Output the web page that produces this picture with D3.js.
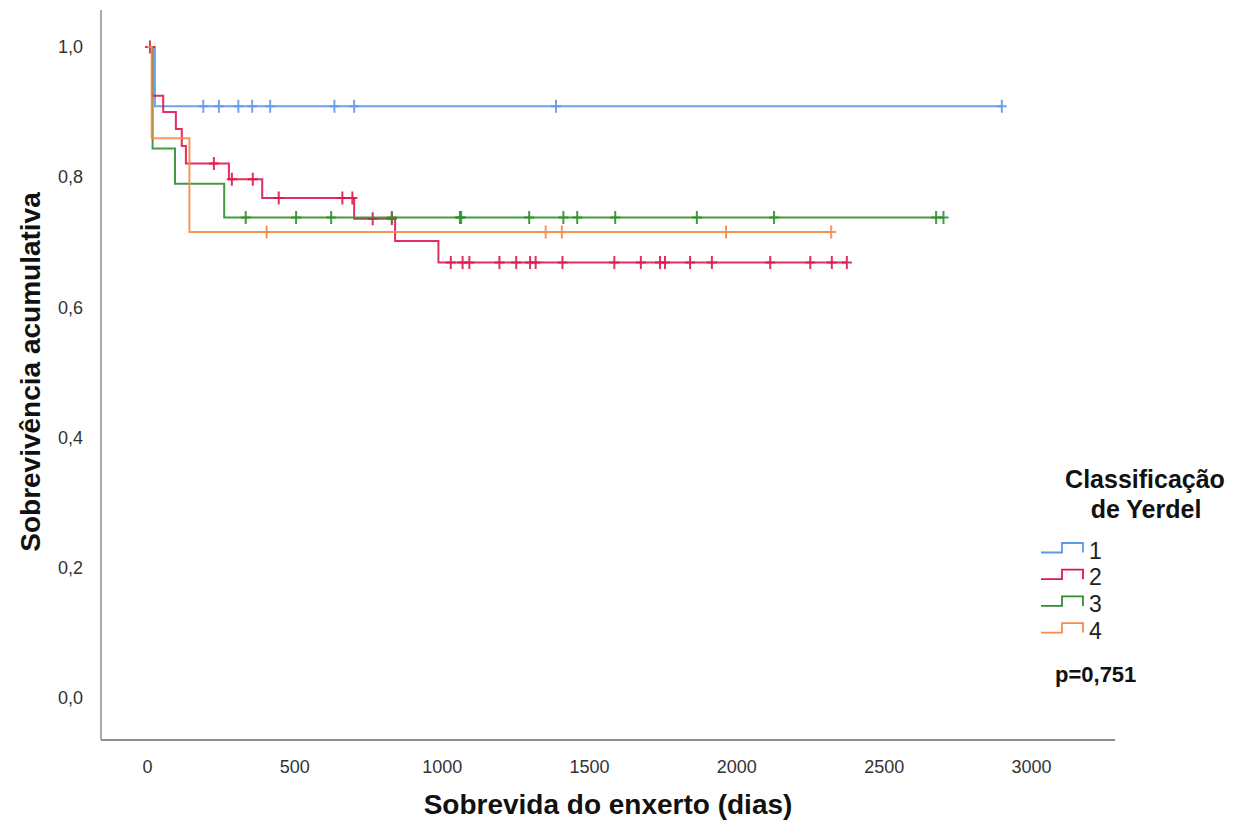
<!DOCTYPE html>
<html>
<head>
<meta charset="utf-8">
<script src="https://cdn.jsdelivr.net/npm/d3@7"></script>
<style>
  body { margin: 0; background: #fff; }
  svg { display: block; font-family: "Liberation Sans", Arial, sans-serif; }
</style>
</head>
<body>
<div id="chart"></div>
<script>
// Kaplan-Meier steps: time (days) and survival after each drop
const groups = ["1", "2", "3", "4"];

const g1Times = [0, 27];
const g1Surv = [1.0, 0.909];
const g1Censored = [191, 244, 310, 357, 418, 636, 703, 1388, 2901];

const g2Times = [0, 18, 55, 98, 118, 132, 278, 391, 703, 842, 989];
const g2Surv = [1.0, 0.925, 0.900, 0.874, 0.848, 0.821, 0.797, 0.768, 0.736, 0.702, 0.669];
const g2Censored = [10, 227, 288, 359, 447, 663, 697, 766, 831, 1031, 1071, 1094, 1196, 1253,
  1300, 1319, 1410, 1586, 1676, 1741, 1758, 1843, 1917, 2115, 2251, 2324, 2375];

const g3Times = [0, 19, 95, 262];
const g3Surv = [1.0, 0.844, 0.790, 0.738];
const g3Censored = [335, 506, 625, 831, 1062, 1066, 1297, 1413, 1460, 1589, 1866, 2128, 2678, 2703];

const g4Times = [0, 16, 144];
const g4Surv = [1.0, 0.860, 0.716];
const g4Censored = [406, 1353, 1408, 1965, 2322];

const xTicks = [0, 500, 1000, 1500, 2000, 2500, 3000];
const yTicks = [0, 0.2, 0.4, 0.6, 0.8, 1.0];
const pValue = "p=0,751";

const colors = ["#5f9ae8", "#e0174f", "#2f8f2f", "#f7894a"];

const series = [
  { name: groups[0], times: g1Times, surv: g1Surv, cens: g1Censored },
  { name: groups[1], times: g2Times, surv: g2Surv, cens: g2Censored },
  { name: groups[2], times: g3Times, surv: g3Surv, cens: g3Censored },
  { name: groups[3], times: g4Times, surv: g4Surv, cens: g4Censored }
];

const width = 1252, height = 820;

const x = d3.scaleLinear().domain([0, 3000]).range([147, 1031]);
const y = d3.scaleLinear().domain([0, 1]).range([698, 47]);

const svg = d3.select("#chart").append("svg")
  .attr("width", width)
  .attr("height", height);

// frame (left and bottom)
const frame = { x0: 101, x1: 1115, y0: 10, y1: 740 };
svg.append("line")
  .attr("x1", frame.x0).attr("x2", frame.x0)
  .attr("y1", frame.y0).attr("y2", frame.y1)
  .attr("stroke", "#8e8e8e").attr("stroke-width", 1.5);
svg.append("line")
  .attr("x1", frame.x0).attr("x2", frame.x1)
  .attr("y1", frame.y1).attr("y2", frame.y1)
  .attr("stroke", "#8e8e8e").attr("stroke-width", 2);

// axes, labels only
const xAxis = svg.append("g")
  .attr("transform", `translate(0,${frame.y1})`)
  .call(d3.axisBottom(x).tickValues(xTicks).tickSize(0).tickPadding(20).tickFormat(d3.format("d")));
xAxis.select(".domain").remove();
xAxis.selectAll("text")
  .attr("font-size", 18)
  .attr("font-family", "Liberation Sans, Arial, sans-serif")
  .attr("fill", "#333");

const yAxis = svg.append("g")
  .attr("transform", `translate(83,0)`)
  .call(d3.axisLeft(y).tickValues(yTicks).tickSize(0).tickPadding(0)
    .tickFormat(d => d3.format(".1f")(d).replace(".", ",")));
yAxis.select(".domain").remove();
yAxis.selectAll("text")
  .attr("font-size", 18)
  .attr("font-family", "Liberation Sans, Arial, sans-serif")
  .attr("fill", "#333");

// axis titles
svg.append("text")
  .attr("x", 608).attr("y", 814)
  .attr("text-anchor", "middle")
  .attr("font-size", 28).attr("font-weight", "bold").attr("fill", "#111")
  .text("Sobrevida do enxerto (dias)");

svg.append("text")
  .attr("transform", "translate(40,372) rotate(-90)")
  .attr("text-anchor", "middle")
  .attr("font-size", 28).attr("font-weight", "bold").attr("fill", "#111")
  .text("Sobrevivência acumulativa");

// survival value at a given time
function survAt(s, t) {
  let v = s.surv[0];
  s.times.forEach((tt, i) => { if (tt <= t) v = s.surv[i]; });
  return v;
}

const line = d3.line()
  .x(d => x(d[0]))
  .y(d => y(d[1]))
  .curve(d3.curveStepAfter);

const curves = svg.append("g");
series.forEach((s, i) => {
  const pts = s.times.map((t, k) => [t, s.surv[k]]);
  const end = d3.max(s.cens);
  pts.push([end, survAt(s, end)]);

  const g = curves.append("g")
    .attr("stroke", colors[i])
    .attr("fill", "none")
    .attr("stroke-width", 2)
    .attr("stroke-opacity", 0.9);

  g.append("path").attr("d", line(pts));

  g.selectAll("path.cens")
    .data(s.cens)
    .join("path")
    .attr("class", "cens")
    .attr("d", t => {
      const cx = x(t), cy = y(survAt(s, t));
      return `M${cx - 5},${cy}H${cx + 5}M${cx},${cy - 6.5}V${cy + 6.5}`;
    });
});

// legend
const legend = svg.append("g");
legend.append("text")
  .attr("x", 1145).attr("y", 488)
  .attr("text-anchor", "middle")
  .attr("font-size", 25).attr("font-weight", "bold").attr("fill", "#111")
  .text("Classificação");
legend.append("text")
  .attr("x", 1146).attr("y", 518)
  .attr("text-anchor", "middle")
  .attr("font-size", 25).attr("font-weight", "bold").attr("fill", "#111")
  .text("de Yerdel");

const item = legend.selectAll("g.item")
  .data(series)
  .join("g")
  .attr("class", "item")
  .attr("transform", (d, i) => `translate(1041,${552.5 + i * 26.7})`);

item.append("path")
  .attr("d", "M0,0H21V-9.5H42V0")
  .attr("fill", "none")
  .attr("stroke", (d, i) => colors[i])
  .attr("stroke-width", 1.8);

item.append("text")
  .attr("x", 48).attr("y", 6)
  .attr("font-size", 23).attr("fill", "#222")
  .text(d => d.name);

legend.append("text")
  .attr("x", 1055).attr("y", 682)
  .attr("font-size", 22).attr("font-weight", "bold").attr("fill", "#111")
  .text(pValue);
</script>
</body>
</html>
